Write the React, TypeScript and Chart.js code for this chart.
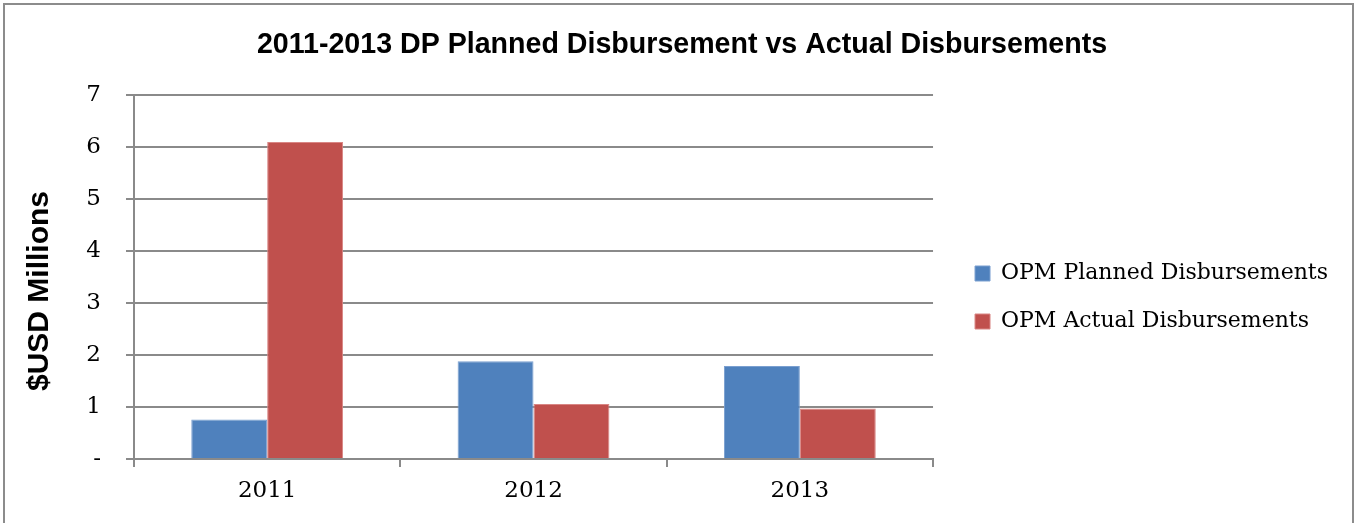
import React, { useEffect, useRef } from "react";
import { Chart, registerables } from "chart.js";

Chart.register(...registerables);

// ---- data ----
const categories = ["2011", "2012", "2013"];
const plannedValues = [0.76, 1.88, 1.79];
const actualValues = [6.1, 1.06, 0.97];
const seriesLabels = ["OPM Planned Disbursements", "OPM Actual Disbursements"];
const yTickLabels = ["-", "1", "2", "3", "4", "5", "6", "7"];
const chartTitle = "2011-2013 DP Planned Disbursement vs Actual Disbursements";
const yAxisTitle = "$USD Millions";

// ---- style ----
const GRID = "#8a8a8a";
const BLUE = "#4F81BD";
const RED = "#C0504D";
const SERIF = "'DejaVu Serif', serif";
const SANS = "'Liberation Sans', Arial, sans-serif";
const LEGEND_DX = 16;
const LEGEND_DY = 36;
const TITLE_DX = 21;

const boxShift = {
  id: "boxShift",
  afterLayout(chart: any) {
    const lg = chart.legend;
    if (lg) {
      lg.left += LEGEND_DX;
      lg.right += LEGEND_DX;
      lg.top += LEGEND_DY;
      lg.bottom += LEGEND_DY;
    }
    const tb = chart.titleBlock;
    if (tb) {
      tb.left += TITLE_DX;
      tb.right += TITLE_DX;
    }
  },
};

const yTitlePlugin = {
  id: "yTitle",
  afterDraw(chart: any) {
    const ctx = chart.ctx;
    ctx.save();
    ctx.translate(40, 291);
    ctx.rotate(-Math.PI / 2);
    ctx.font = `bold 30px ${SANS}`;
    ctx.fillStyle = "#000";
    ctx.textAlign = "center";
    ctx.textBaseline = "middle";
    ctx.fillText(yAxisTitle, 0, 0);
    ctx.restore();
  },
};

export default function App() {
  const ref = useRef<HTMLCanvasElement | null>(null);

  useEffect(() => {
    if (!ref.current) return;
    const chart = new Chart(ref.current, {
      type: "bar",
      data: {
        labels: categories,
        datasets: [
          {
            label: seriesLabels[0],
            data: plannedValues,
            backgroundColor: BLUE,
            borderColor: "#7a9fd0",
            borderWidth: 1,
            barPercentage: 1,
            categoryPercentage: 0.57,
          },
          {
            label: seriesLabels[1],
            data: actualValues,
            backgroundColor: RED,
            borderColor: "#d98684",
            borderWidth: 1,
            barPercentage: 1,
            categoryPercentage: 0.57,
          },
        ],
      },
      options: {
        responsive: false,
        animation: false,
        devicePixelRatio: 1,
        layout: { padding: { left: 0, right: 33, top: 0, bottom: 0 } },
        plugins: {
          title: {
            display: true,
            text: chartTitle,
            color: "#000",
            font: { family: SANS, size: 28.6, weight: "bold", lineHeight: 1.2 },
            padding: { top: 28, bottom: 33 },
          },
          legend: {
            position: "right",
            align: "center",
            maxWidth: 600,
            labels: {
              boxWidth: 15,
              boxHeight: 15,
              padding: 26,
              color: "#000",
              font: { family: SERIF, size: 22 },
            },
          },
          tooltip: { enabled: false },
        },
        scales: {
          x: {
            grid: {
              display: true,
              drawOnChartArea: false,
              drawTicks: true,
              tickLength: 8,
              color: GRID,
              lineWidth: 2,
              offset: true,
            },
            border: { display: true, color: GRID, width: 2 },
            ticks: { color: "#000", font: { family: SERIF, size: 23 }, padding: 10 },
            afterFit(s: any) {
              s.height = 64;
            },
          },
          y: {
            min: 0,
            max: 7,
            ticks: {
              stepSize: 1,
              color: "#000",
              font: { family: SERIF, size: 23 },
              padding: 25,
              callback: (v: any) => yTickLabels[Math.round(Number(v))] ?? String(v),
            },
            grid: { color: GRID, lineWidth: 2, tickLength: 8, drawTicks: true },
            border: { display: true, color: GRID, width: 2 },
            afterFit(s: any) {
              s.width = 134;
            },
          },
        },
      },
      plugins: [boxShift, yTitlePlugin],
    } as any);
    return () => chart.destroy();
  }, []);

  return (
    <div
      style={{
        position: "fixed",
        left: 0,
        top: 0,
        width: 1355,
        height: 523,
        overflow: "hidden",
        background: "#fff",
      }}
    >
      <canvas ref={ref} width={1355} height={523} style={{ position: "absolute", left: 0, top: 0 }} />
      <div
        style={{
          position: "absolute",
          left: 3,
          top: 3,
          width: 1351,
          height: 700,
          boxSizing: "border-box",
          border: "2px solid #8c8c8c",
          pointerEvents: "none",
        }}
      />
    </div>
  );
}
